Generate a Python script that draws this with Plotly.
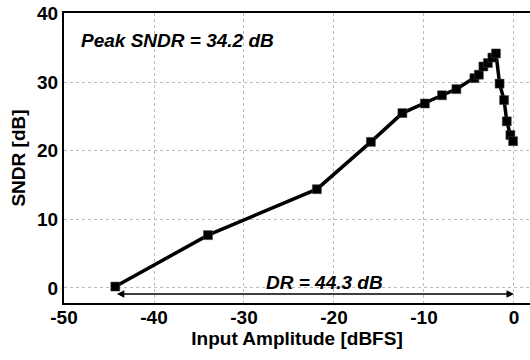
import plotly.graph_objects as go

x_vals = [-44.3, -34.0, -21.9, -15.9, -12.4, -9.9, -8.0, -6.4, -4.4, -3.9, -3.4, -2.9, -2.4, -2.0, -1.6, -1.1, -0.8, -0.4, -0.1]
sndr = [0.2, 7.7, 14.4, 21.3, 25.5, 26.9, 28.1, 29.0, 30.6, 31.1, 32.3, 32.8, 33.6, 34.2, 29.8, 27.4, 24.3, 22.3, 21.4]
x_ticks = [-50, -40, -30, -20, -10, 0]
y_ticks = [0, 10, 20, 30, 40]

font_family = "Liberation Sans, Arial, sans-serif"

fig = go.Figure()
fig.add_trace(go.Scatter(
    x=x_vals, y=sndr, mode="lines+markers",
    line=dict(color="black", width=3.5),
    marker=dict(symbol="square", size=9, color="black", line=dict(color="#444", width=0.5)),
    showlegend=False,
))

fig.add_annotation(
    x=0, y=-0.9, ax=-44.3, ay=-0.9, xref="x", yref="y", axref="x", ayref="y",
    text="", showarrow=True, arrowhead=2, arrowside="end+start",
    arrowwidth=1.5, arrowsize=1, arrowcolor="black",
)
fig.add_annotation(
    x=-21.1, y=0.8, xref="x", yref="y", text="<b><i>DR = 44.3 dB</i></b>",
    showarrow=False, font=dict(family=font_family, size=19, color="black"),
)
fig.add_annotation(
    x=-37.4, y=36.1, xref="x", yref="y", text="<b><i>Peak SNDR = 34.2 dB</i></b>",
    showarrow=False, font=dict(family=font_family, size=19, color="black"),
)

fig.update_layout(
    width=530, height=360,
    margin=dict(l=64, r=0, t=13, b=57),
    paper_bgcolor="white", plot_bgcolor="white",
    font=dict(family=font_family, color="black"),
    xaxis=dict(
        range=[-50, 1.78], tickvals=x_ticks, ticktext=[f"<b>{v}</b>" for v in x_ticks],
        tickfont=dict(size=19), showgrid=True, gridcolor="#bbbbbb", griddash="dot", gridwidth=1,
        showline=True, linecolor="black", linewidth=2, mirror=True, zeroline=False, ticks="",
        ticklabelstandoff=-4,
        title=dict(text="<b>Input Amplitude [dBFS]</b>", font=dict(size=19), standoff=2),
    ),
    yaxis=dict(
        range=[-2.2, 40.1], tickvals=y_ticks, ticktext=[f"<b>{v}</b>" for v in y_ticks],
        tickfont=dict(size=19), showgrid=True, gridcolor="#bbbbbb", griddash="dot", gridwidth=1,
        showline=True, linecolor="black", linewidth=2, mirror=False, zeroline=False, ticks="",
        title=dict(text="<b>SNDR [dB]</b>", font=dict(size=19), standoff=6),
    ),
)

fig.write_html("out.html")
